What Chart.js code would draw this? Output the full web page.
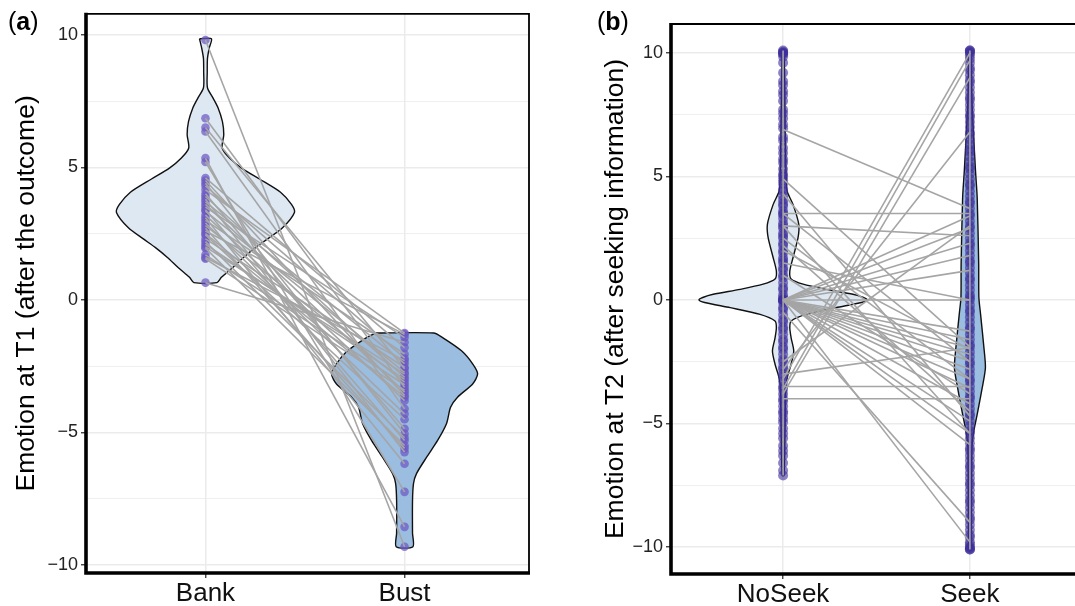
<!DOCTYPE html>
<html>
<head>
<meta charset="utf-8">
<script src="https://cdn.jsdelivr.net/npm/chart.js@4.4.0/dist/chart.umd.min.js"></script>
<style>
    html, body { margin: 0; padding: 0; background: #fff; overflow: hidden; width: 1075px; height: 606px; }
    #wrapA { position: absolute; left: 0; top: 0; width: 540px; height: 606px; }
    #wrapB { position: absolute; left: 560px; top: 0; width: 530px; height: 606px; }
    .tag { position: absolute; top: 7px; font-family: "Liberation Sans", Arial, sans-serif; font-size: 25px; color: #000; }
</style>
</head>
<body>
<div id="wrapA"><canvas id="chartA" width="540" height="606"></canvas></div>
<div id="wrapB"><canvas id="chartB" width="530" height="606"></canvas></div>
<div class="tag" style="left:8px">(<b>a</b>)</div>
<div class="tag" style="left:597px">(<b>b</b>)</div>
<script>
var FONT = '"Liberation Sans", Arial, sans-serif';

// panel a
var groupsA = ['Bank', 'Bust'];
var titleA = 'Emotion at T1 (after the outcome)';
var bankVals = [9.8, 5.35, 5.2, 0.65, 6.85, 6.5, 6.35, 4.6, 4.5, 4.4, 4.3, 4.15, 4.0, 3.9, 3.8, 3.7, 3.6, 3.5, 3.4, 3.35, 3.2, 3.1, 3.0, 2.9, 2.8, 2.7, 2.6, 2.5, 2.45, 2.3, 2.2, 2.1, 2.0, 1.95, 1.7, 1.6, 1.55];
var bustVals = [-9.31, -8.56, -7.24, -1.6, -3.3, -2.6, -4.11, -1.8, -3.6, -5.05, -2.2, -1.25, -4.86, -2.92, -5.74, -2.4, -3.48, -1.42, -5.3, -2.73, -3.8, -6.18, -2.04, -4.3, -3.1, -5.6, -1.3, -3.67, -4.5, -2.54, -5.2, -3.0, -2.8, -5.49, -3.2, -2.29, -3.4];

// violin outlines: emotion value and half width (in group units)
var bankShapeY = [9.85, 9.5, 9.1, 8.6, 8.0, 7.6, 7.23, 6.73, 6.24, 5.73, 5.35, 4.97, 4.56, 4.06, 3.6, 3.3, 2.72, 2.3, 1.97, 1.6, 1.21, 0.85, 0.65];
var bankShapeW = [.030, .019, .010, .009, .010, .039, .064, .085, .092, .084, .121, .181, .271, .377, .432, .447, .387, .312, .251, .191, .136, .080, .058];
var bustShapeY = [-1.25, -1.42, -1.92, -2.41, -2.79, -3.17, -3.67, -4.05, -4.66, -5.3, -5.93, -6.55, -6.92, -7.56, -8.8, -9.31];
var bustShapeW = [.146, .191, .286, .342, .367, .342, .266, .231, .211, .166, .111, .060, .045, .040, .040, .042];

// panel b
var groupsB = ['NoSeek', 'Seek'];
var titleB = 'Emotion at T2 (after seeking information)';
var noSeekDots = [10.1, 10.05, 10, 10, 9.95, 9.85, 9.6, 9.2, 8.85, 8.7, 8.45, 8.3, 8.05, 7.7, 7.55, 7.35, 7.1, 6.95, 6.6, 6.45, 6.15, 5.95, 5.7, 5.55, 5.3, 5.1, 5.0, 4.85, 4.7, 4.5, 4.4, 4.2, 4.05, 3.9, 3.8, 3.6, 3.5, 3.45, 3.3, 3.1, 3.0, 2.9, 2.7, 2.6, 2.5, 2.3, 2.2, 2.0, 1.9, 1.7, 1.6, 1.5, 1.3, 1.2, 1.0, 0.9, 0.7, 0.5, 0.4, 0.2, 0.1, 0, 0, 0, 0, -0.1, -0.3, -0.4, -0.6, -0.8, -0.9, -1.1, -1.2, -1.4, -1.6, -1.7, -1.9, -2.0, -2.2, -2.4, -2.5, -2.7, -2.8, -3.0, -3.1, -3.3, -3.5, -3.6, -3.8, -4.0, -4.1, -4.3, -4.5, -4.6, -4.8, -4.95, -5.2, -5.4, -5.6, -5.9, -6.1, -6.3, -6.6, -6.9, -7.1];
var seekDots = [10.1, 10.1, 10.05, 10, 9.9, 9.75, 9.6, 9.4, 9.3, 9.1, 8.9, 8.8, 8.6, 8.4, 8.2, 8.1, 7.9, 7.7, 7.5, 7.4, 7.2, 7.0, 6.8, 6.7, 6.5, 6.3, 6.1, 6.0, 5.8, 5.6, 5.4, 5.3, 5.1, 4.9, 4.7, 4.6, 4.4, 4.2, 4.0, 3.9, 3.7, 3.5, 3.4, 3.2, 3.0, 2.9, 2.7, 2.5, 2.3, 2.2, 2.0, 1.8, 1.6, 1.5, 1.3, 1.1, 0.9, 0.8, 0.6, 0.4, 0.2, 0.1, 0, -0.2, -0.4, -0.5, -0.7, -0.9, -1.1, -1.2, -1.4, -1.6, -1.8, -1.9, -2.1, -2.3, -2.5, -2.6, -2.8, -3.0, -3.2, -3.3, -3.5, -3.7, -3.9, -4.0, -4.2, -4.4, -4.6, -4.7, -4.9, -5.1, -5.3, -5.4, -5.6, -5.8, -6.0, -6.1, -6.3, -6.5, -6.7, -6.8, -7.0, -7.2, -7.4, -7.5, -7.7, -7.9, -8.1, -8.2, -8.4, -8.6, -8.8, -8.9, -9.1, -9.3, -9.5, -9.6, -9.8, -9.9, -10, -10.05, -10.1, -10.1];
var noSeekPair = [6.9, 4.9, 4.3, 3.5, 3.5, 3.0, 3.0, 2.5, 2.0, 1.5, 0, 0, 0, 0, 0, 0, 0, 0, 0, 0, 0, 0, 0, 0, 0, 0, 0, 0, 0, -0.5, -3.0, -3.5, -4.0, -3.2, -3.6, -3.8, -2.8, -2.5, 1.0, 2.2];
var seekPair = [3.7, -1.9, -4.7, 3.5, -2.5, 2.6, -5.4, -3.2, -2.0, 0.0, 0, 3.4, 2.9, 2.3, 1.8, 1.2, -1.26, -1.6, -1.93, -2.2, -2.47, -2.8, -3.2, -3.56, -4.2, -4.9, -5.4, -5.85, -9.8, -9.0, -1.93, -3.5, -4.0, 10.0, 9.7, 9.0, 6.8, 3.0, -3.8, -4.5];

var noSeekShapeY = [10.1, 7, 5, 4.41, 3.87, 3.06, 2.52, 1.71, 1.17, 0.85, 0.64, 0.43, 0.23, 0.1, 0.0, -0.1, -0.31, -0.58, -0.85, -1.12, -1.53, -2.06, -2.6, -3.0, -3.4, -5, -7.1];
var noSeekShapeW = [.005, .011, .016, .021, .053, .084, .080, .053, .036, .043, .107, .230, .374, .430, .450, .420, .283, .123, .043, .036, .043, .057, .043, .027, .016, .011, .005];
var seekShapeY = [10.1, 8, 5.22, 4.14, 1.46, 0.1, -0.57, -1.93, -2.74, -3.55, -4.63, -5.3, -5.97, -8, -10.1];
var seekShapeW = [.005, .011, .030, .039, .047, .048, .057, .075, .083, .066, .039, .021, .011, .008, .005];

var yTicks = [-10, -7.5, -5, -2.5, 0, 2.5, 5, 7.5, 10];

function violinPoints(center, ys, ws)
{
    var left = [], right = [], i;
    for (i = 0; i < ys.length; i++) {
        left.push({x: center - ws[i], y: ys[i]});
    }
    for (i = ys.length - 1; i >= 0; i--) {
        right.push({x: center + ws[i], y: ys[i]});
    }
    var pts = left.concat(right);
    pts.push(left[0]);
    return pts;
}

function violin(center, ys, ws, color)
{
    return {
        type: 'line',
        data: violinPoints(center, ys, ws),
        borderColor: '#111',
        borderWidth: 1.4,
        backgroundColor: color,
        fill: 'shape',
        tension: 0.25,
        pointRadius: 0,
        order: 3
    };
}

function dots(center, vals, color, r)
{
    return {
        type: 'scatter',
        data: vals.map(function (v) { return {x: center, y: v}; }),
        backgroundColor: color,
        borderWidth: 0,
        pointRadius: r,
        order: 2
    };
}

function pairLines(pre, post)
{
    return pre.map(function (v, i) {
        return {
            type: 'line',
            data: [{x: 1, y: v}, {x: 2, y: post[i]}],
            borderColor: '#a5a5a5',
            borderWidth: 1.6,
            pointRadius: 0,
            fill: false,
            order: 1
        };
    });
}

function columnLine(center, vals)
{
    return {
        type: 'line',
        data: [{x: center, y: Math.max.apply(null, vals)}, {x: center, y: Math.min.apply(null, vals)}],
        borderColor: '#a5a5a5',
        borderWidth: 1.6,
        pointRadius: 0,
        fill: false,
        order: 1
    };
}

// frame: thick left/bottom axis, thin top/right
var boxBorder = {
    id: 'boxBorder',
    afterDatasetsDraw: function (chart)
    {
        var a = chart.chartArea, c = chart.ctx;
        c.save();
        c.strokeStyle = '#000';
        c.lineWidth = 1.8;
        c.beginPath();
        c.moveTo(a.left, a.top);
        c.lineTo(a.right, a.top);
        c.lineTo(a.right, a.bottom);
        c.stroke();
        c.lineWidth = 3.6;
        c.beginPath();
        c.moveTo(a.left, a.top - 1);
        c.lineTo(a.left, a.bottom);
        c.lineTo(a.right + 1, a.bottom);
        c.stroke();
        c.restore();
    }
};

function makeOptions(groups, title, xMax, yMin, yMax, pad, yWidth, xHeight, titlePad)
{
    return {
        responsive: false,
        animation: false,
        layout: { padding: pad },
        plugins: { legend: { display: false }, tooltip: { enabled: false } },
        scales: {
            x: {
                type: 'linear', min: 0.4, max: xMax,
                afterBuildTicks: function (s) { s.ticks = [{value: 1}, {value: 2}]; },
                afterFit: function (s) { s.height = xHeight; },
                ticks: {
                    callback: function (v) { return groups[v - 1]; },
                    font: { family: FONT, size: 26 }, color: '#111',
                    padding: 0, maxRotation: 0, autoSkip: false
                },
                grid: { color: '#ebebeb', lineWidth: 1.5, tickLength: 5, tickColor: '#333', tickWidth: 1.3 },
                border: { display: false }
            },
            y: {
                type: 'linear', min: yMin, max: yMax,
                afterBuildTicks: function (s) { s.ticks = yTicks.map(function (v) { return {value: v}; }); },
                afterFit: function (s) { s.width = yWidth; },
                ticks: {
                    callback: function (v) { return v % 5 === 0 ? String(v).replace('-', '\u2212') : ''; },
                    font: { family: FONT, size: 18 }, color: '#222', padding: 3, autoSkip: false
                },
                grid: {
                    color: '#ebebeb',
                    lineWidth: function (ctx) { return ctx.tick && ctx.tick.value % 5 === 0 ? 1.5 : 0.8; },
                    tickLength: 5,
                    tickColor: function (ctx) { return ctx.tick && ctx.tick.value % 5 === 0 ? '#333' : 'rgba(0,0,0,0)'; },
                    tickWidth: 1.3
                },
                border: { display: false },
                title: { display: true, text: title, font: { family: FONT, size: 26.5 }, color: '#000', padding: { top: titlePad, bottom: 0 } }
            }
        }
    };
}

var dsA = [
    violin(1, bankShapeY, bankShapeW, '#dde8f2'),
    violin(2, bustShapeY, bustShapeW, '#9bbde0'),
    dots(1, bankVals, 'rgba(108,88,196,0.72)', 4.3),
    dots(2, bustVals, 'rgba(108,88,196,0.72)', 4.3)
].concat(pairLines(bankVals, bustVals));

var dsB = [
    violin(1, noSeekShapeY, noSeekShapeW, '#dde8f2'),
    violin(2, seekShapeY, seekShapeW, '#9bbde0'),
    dots(1, noSeekDots, 'rgba(62,46,155,0.6)', 5),
    dots(2, seekDots, 'rgba(62,46,155,0.6)', 5),
    columnLine(1, noSeekDots),
    columnLine(2, seekDots)
].concat(pairLines(noSeekPair, seekPair));

new Chart(document.getElementById('chartA'), {
    type: 'scatter',
    data: { datasets: dsA },
    options: makeOptions(groupsA, titleA, 2.625, -10.3, 10.79, {top: 12, right: 11, left: 0, bottom: 0}, 86, 33, 11),
    plugins: [boxBorder]
});

new Chart(document.getElementById('chartB'), {
    type: 'scatter',
    data: { datasets: dsB },
    options: makeOptions(groupsB, titleB, 2.6, -11.09, 11.17, {top: 24, right: 8, left: 0, bottom: 0}, 111, 32, 40),
    plugins: [boxBorder]
});
</script>
</body>
</html>
